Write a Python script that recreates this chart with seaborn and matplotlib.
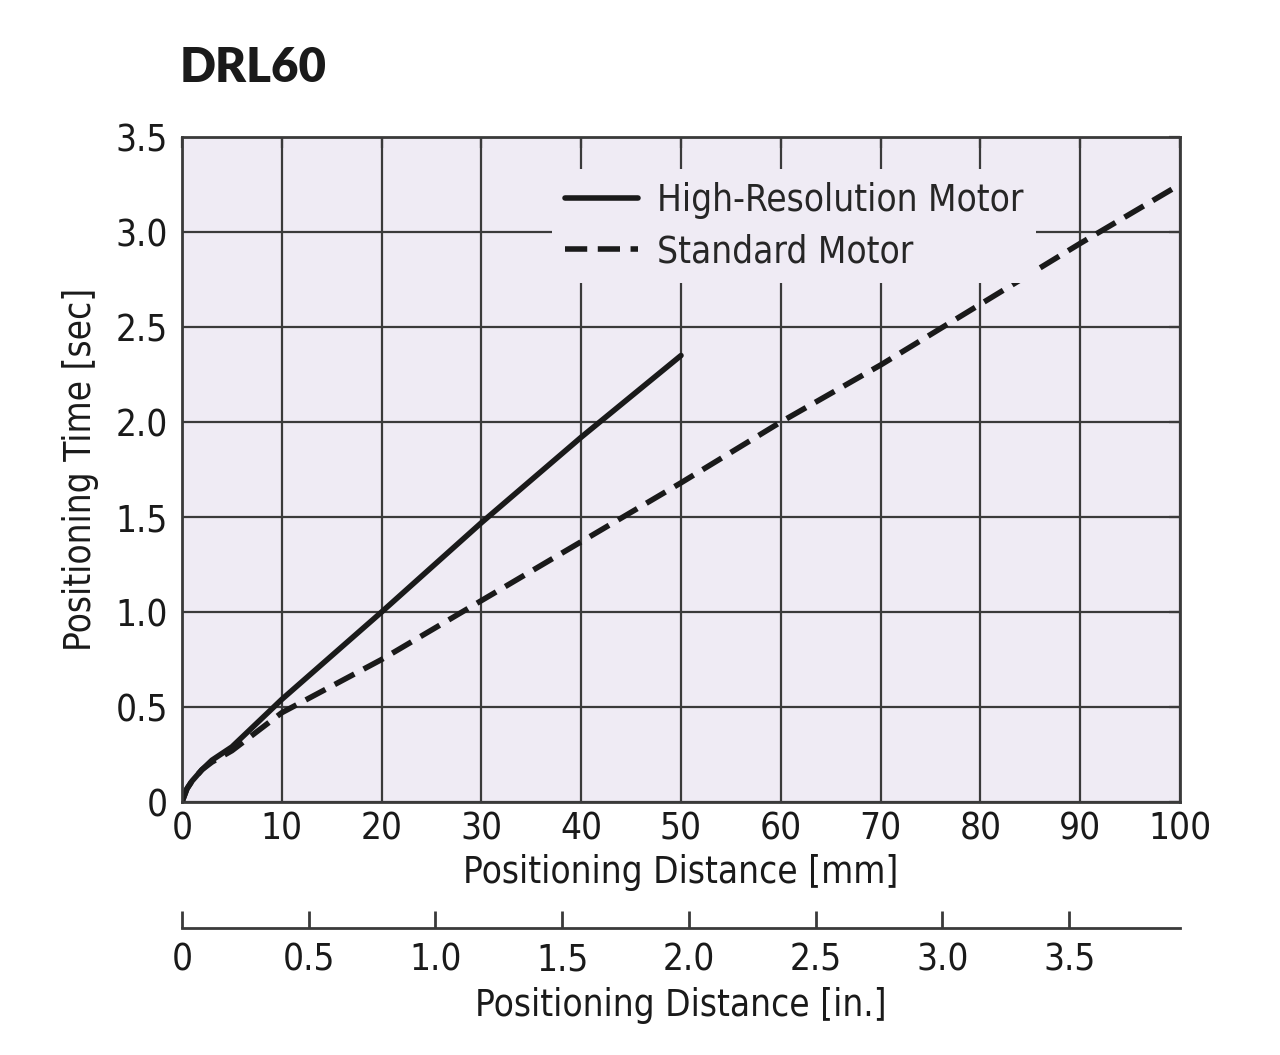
import pandas as pd
import seaborn as sns
import matplotlib.pyplot as plt
from matplotlib import font_manager

# data
hr_mm = [0, 0.5, 1, 2, 3, 5, 10, 20, 30, 40, 50]
hr_sec = [0, 0.07, 0.11, 0.17, 0.22, 0.29, 0.54, 1.0, 1.47, 1.92, 2.35]
std_mm = [0, 0.5, 1, 2, 3, 5, 10, 20, 30, 40, 50, 60, 70, 80, 90, 100]
std_sec = [0, 0.07, 0.11, 0.17, 0.21, 0.27, 0.47, 0.75, 1.06, 1.37, 1.68, 2.0, 2.3, 2.62, 2.94, 3.25]

x_ticks = [0, 10, 20, 30, 40, 50, 60, 70, 80, 90, 100]
y_ticks = [0, 0.5, 1.0, 1.5, 2.0, 2.5, 3.0, 3.5]
y_labels = ['0', '0.5', '1.0', '1.5', '2.0', '2.5', '3.0', '3.5']
in_ticks = [0, 0.5, 1.0, 1.5, 2.0, 2.5, 3.0, 3.5]
in_labels = ['0', '0.5', '1.0', '1.5', '2.0', '2.5', '3.0', '3.5']

df_hr = pd.DataFrame({'mm': hr_mm, 'sec': hr_sec})
df_std = pd.DataFrame({'mm': std_mm, 'sec': std_sec})

sns.set_style('white')
# pick a condensed face if one is installed
cond = [f.name for f in font_manager.fontManager.ttflist
        if f.stretch in ('condensed', 'semi-condensed', 'extra-condensed') or 'Narrow' in f.name or 'Condensed' in f.name]
if cond:
    plt.rcParams['font.family'] = [cond[0], 'DejaVu Sans']
    plt.rcParams['font.stretch'] = 'condensed'
    fs = 26.5
else:
    plt.rcParams['font.family'] = ['Roboto', 'DejaVu Sans']
    fs = 26

grid_col = '#3a3a3a'
ink = '#1a1a1a'
fig = plt.figure(figsize=(12.8, 10.55), dpi=100)
ax = fig.add_axes([182/1280, 1-802/1055, 998/1280, 665/1055])
ax.set_facecolor('#efebf4')

sns.lineplot(data=df_hr, x='mm', y='sec', ax=ax, color=ink, linewidth=4,
             label='High-Resolution Motor')
sns.lineplot(data=df_std, x='mm', y='sec', ax=ax, color=ink, linewidth=4,
             label='Standard Motor')
ax.lines[1].set_dashes([4.0, 1.9])

ax.set_xlim(0, 100)
ax.set_ylim(0, 3.5)
ax.set_xticks(x_ticks)
ax.set_yticks(y_ticks)
ax.set_yticklabels(y_labels)
ax.grid(True, color=grid_col, lw=1.6)
ax.set_axisbelow(True)
for s in ax.spines.values():
    s.set_color(grid_col)
    s.set_linewidth(2)
ax.tick_params(axis='both', direction='in', length=8, width=1.6, color=grid_col,
               labelsize=fs, colors=ink, pad=6, top=True, right=True)
ax.tick_params(axis='y', pad=10)

ax.set_xlabel('Positioning Distance [mm]', fontsize=fs, labelpad=5, color=ink)
ax.set_ylabel('Positioning Time [sec]', fontsize=fs, labelpad=12, color=ink)

leg = ax.legend(loc='upper left', bbox_to_anchor=(0.352, 0.98), fontsize=fs,
                frameon=True, facecolor='#efebf4', edgecolor='none', framealpha=1,
                handlelength=2.0, handletextpad=0.5, borderpad=0.35, labelspacing=0.4,
                fancybox=False)

# inch scale below the mm axis
sec = ax.secondary_xaxis(-0.189, functions=(lambda v: v / 25.4, lambda v: v * 25.4))
sec.set_xticks(in_ticks)
sec.set_xticklabels(in_labels)
sec.spines['bottom'].set_color(grid_col)
sec.spines['bottom'].set_linewidth(2)
sec.tick_params(direction='in', length=12, width=2, color=grid_col,
                labelsize=fs, colors=ink, pad=10)
sec.set_xlabel('Positioning Distance [in.]', fontsize=fs, labelpad=6, color=ink)

fig.text(180/1280, 1-68/1055, 'DRL60', fontsize=34, fontweight='heavy',
         family=['Lato', 'DejaVu Sans'], va='center', ha='left', color=ink)

plt.savefig('out.png', dpi=100)
